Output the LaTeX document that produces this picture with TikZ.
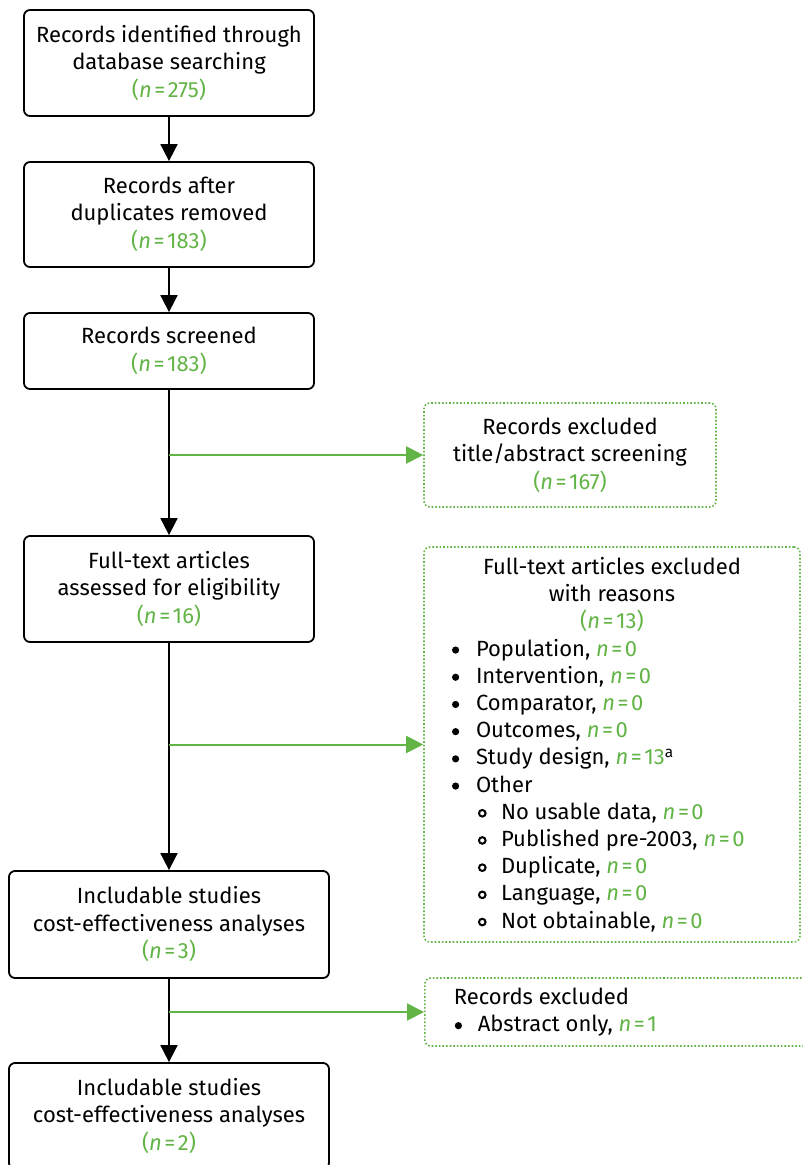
\documentclass[tikz,border=0pt]{standalone}
\usepackage{fontspec}
\setmainfont{Fira Sans}
\usetikzlibrary{arrows.meta,positioning,calc}
\definecolor{grn}{RGB}{98,180,70}
\newcommand{\nn}[1]{\textcolor{grn}{\textit{n}\kern2.5pt=\kern2.5pt#1}}
\newcommand{\pn}[1]{\textcolor{grn}{(\textit{n}\kern2.5pt=\kern2.5pt#1)}}
\newcommand{\bul}{\makebox[29pt][l]{\hspace{5pt}\tikz[baseline=-6pt]\fill (0,0) circle (3.6pt);}}
\newcommand{\sbul}{\hspace*{29pt}\makebox[25pt][l]{\hspace{2pt}\tikz[baseline=-6pt]\draw[line width=2pt] (0,0) circle (3.3pt);}}
\begin{document}
\begin{tikzpicture}[x=1pt,y=-1pt,
  every node/.style={font=\fontsize{22}{27.5}\selectfont},
  mainbox/.style={draw=black,line width=1.8pt,rounded corners=6pt,align=center,inner sep=0pt},
  exbox/.style={draw=grn,line width=1.6pt,dotted,rounded corners=6pt,inner sep=0pt},
  barrow/.style={line width=1.8pt,-{Triangle[width=17pt,length=17pt]}},
  garrow/.style={draw=grn,line width=2pt,-{Triangle[width=17pt,length=17pt]},color=grn}
]
\useasboundingbox (0,0) rectangle (803,1165);
\node[mainbox,minimum width=290pt,minimum height=106pt,text depth=4pt] (b1) at (169,63)
  {Records identified through\\database searching\\\pn{275}};
\node[mainbox,minimum width=290pt,minimum height=105pt,text depth=4pt] (b2) at (169,214.5)
  {Records after\\duplicates removed\\\pn{183}};
\node[mainbox,minimum width=290pt,minimum height=76pt,text depth=4pt] (b3) at (169,351)
  {Records screened\\\pn{183}};
\node[mainbox,minimum width=290pt,minimum height=106pt,text depth=4pt] (b4) at (169,589)
  {Full-text articles\\assessed for eligibility\\\pn{16}};
\node[mainbox,minimum width=320pt,minimum height=107pt,text depth=4pt] (b5) at (169,924.5)
  {Includable studies\\cost-effectiveness analyses\\\pn{3}};
\node[mainbox,minimum width=320pt,minimum height=106pt,text depth=4pt] (b6) at (169,1116)
  {Includable studies\\cost-effectiveness analyses\\\pn{2}};

\node[exbox,minimum width=292pt,minimum height=104pt,align=center] (e1) at (570,455)
  {Records excluded\\title/abstract screening\\\pn{167}};
\node[exbox,minimum width=376pt,minimum height=395pt] (e2) at (612,744.5)
  {\begin{minipage}{330pt}\fontsize{22}{27.2}\selectfont
   \centering Full-text articles excluded\\with reasons\\\pn{13}\par
   \raggedright
   \bul Population, \nn{0}\\
   \bul Intervention, \nn{0}\\
   \bul Comparator, \nn{0}\\
   \bul Outcomes, \nn{0}\\
   \bul Study design, \nn{13}\textsuperscript{a}\\
   \bul Other\\
   \sbul No usable data, \nn{0}\\
   \sbul Published pre-2003, \nn{0}\\
   \sbul Duplicate, \nn{0}\\
   \sbul Language, \nn{0}\\
   \sbul Not obtainable, \nn{0}
   \end{minipage}};
\node[exbox,minimum width=390pt,minimum height=68pt,anchor=west] (e3) at (424,1012)
  {\begin{minipage}{332pt}\fontsize{22}{27.5}\selectfont
   Records excluded\\
   \makebox[24pt][l]{\hspace{1pt}\tikz[baseline=-6pt]\fill (0,0) circle (3.6pt);}Abstract only, \nn{1}
   \end{minipage}};

\draw[barrow] (b1) -- (b2);
\draw[barrow] (b2) -- (b3);
\draw[barrow] (b3) -- (b4);
\draw[barrow] (b4) -- (b5);
\draw[barrow] (b5) -- (b6);
\draw[garrow] (b3.south |- e1.west) -- (e1.west);
\draw[garrow] (b4.south |- e2.west) -- (e2.west);
\draw[garrow] (b5.south |- e3.west) -- (e3.west);
\end{tikzpicture}
\end{document}
